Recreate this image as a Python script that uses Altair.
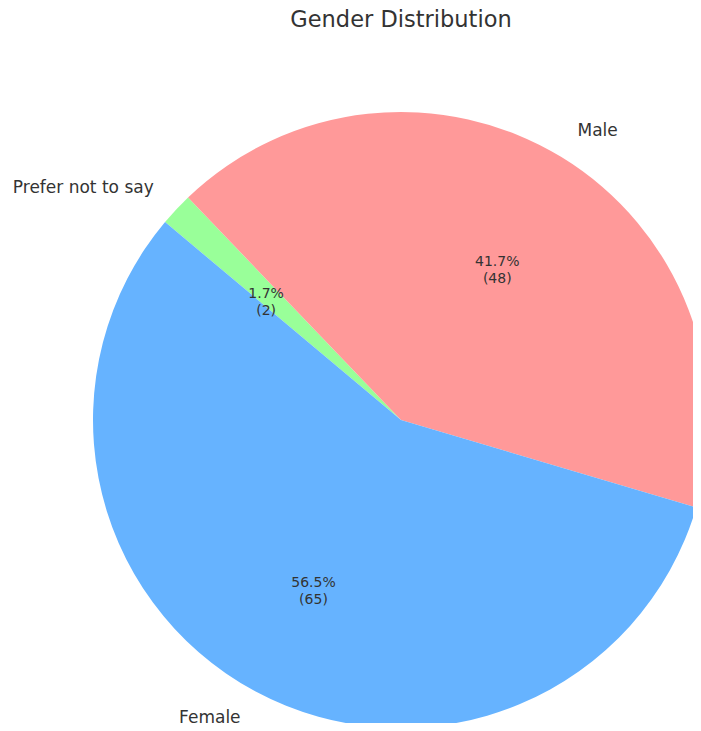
import math
import altair as alt
import pandas as pd

# Data
categories = ["Prefer not to say", "Male", "Female"]
counts = [2, 48, 65]
colors = ["#99ff99", "#ff9999", "#66b3ff"]
label_side = ["left", "right", "left"]
title_text = "Gender Distribution"

total = sum(counts)
df = pd.DataFrame({
    "category": categories,
    "count": counts,
    "ord": list(range(len(categories))),
    "side": label_side,
    "pct": [f"{c / total * 100:.1f}%\n({c})" for c in counts],
})
df["lbl_r"] = [c if s == "right" else "" for c, s in zip(categories, label_side)]
df["lbl_l"] = [c if s == "left" else "" for c, s in zip(categories, label_side)]

W, H = 685, 715
CX, CY = 393, 412
R = 308
start = math.radians(-50)

theta = alt.Theta("count:Q", stack=True,
                  scale=alt.Scale(range=[start, start + 2 * math.pi]))
order = alt.Order("ord:Q", sort="ascending")
color = alt.Color("category:N", scale=alt.Scale(domain=categories, range=colors), legend=None)

base = alt.Chart(df).encode(theta=theta, order=order,
                            x=alt.value(CX), y=alt.value(CY))

arcs = base.mark_arc(radius=R, stroke=None).encode(color=color)

pct = base.mark_text(radius=R * 0.6, fontSize=14, font="DejaVu Sans",
                     color="#333333", lineBreak="\n", align="center",
                     baseline="middle", lineHeight=17).encode(text="pct:N")

lbl_right = base.mark_text(radius=R * 1.1, fontSize=17, font="DejaVu Sans",
                           color="#333333", align="left", baseline="middle"
                           ).encode(text="lbl_r:N")
lbl_left = base.mark_text(radius=R * 1.1, fontSize=17, font="DejaVu Sans",
                          color="#333333", align="right", baseline="middle"
                          ).encode(text="lbl_l:N")

title = alt.Chart(pd.DataFrame({"t": [title_text]})).mark_text(
    fontSize=22.5, font="DejaVu Sans", color="#333333",
    align="center", baseline="middle").encode(
    text="t:N", x=alt.value(CX), y=alt.value(12))

chart = alt.layer(arcs, pct, lbl_right, lbl_left, title).properties(
    width=W, height=H, padding=0, autosize="none"
).configure_view(stroke=None)

chart.save("out.html", embed_options={"renderer": "svg", "actions": False})
